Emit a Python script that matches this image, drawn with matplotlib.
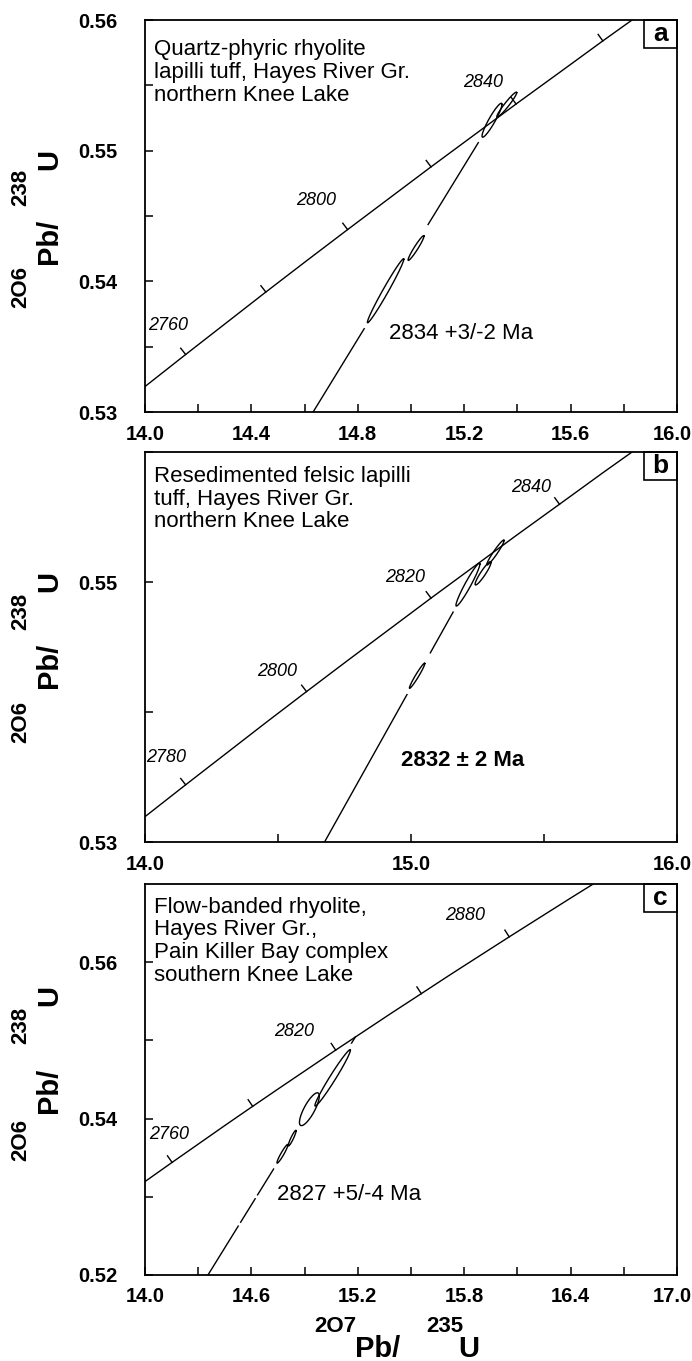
import matplotlib
matplotlib.use("Agg")
import matplotlib.pyplot as plt
from matplotlib.patches import Rectangle
from matplotlib.transforms import offset_copy
import numpy as np

plt.rcParams['font.family'] = ['Liberation Sans', 'DejaVu Sans']

# concordia: age (Ma), 207Pb/235U, 206Pb/238U
conc_age = [2700, 2720, 2740, 2760, 2780, 2790, 2800, 2820, 2840, 2850, 2860, 2880, 2900, 2910, 2920]
conc_x = [13.2833, 13.5675, 13.8573, 14.1528, 14.4542, 14.6072, 14.7617, 15.0752, 15.3950,
          15.5581, 15.7211, 16.0537, 16.3930, 16.5652, 16.7390]
conc_y = [0.52020, 0.52492, 0.52966, 0.53440, 0.53918, 0.54157, 0.54396, 0.54876, 0.55357,
          0.55598, 0.55840, 0.56324, 0.56810, 0.57053, 0.57297]

panel_letters = ['a', 'b', 'c']
descriptions = [
    "Quartz-phyric rhyolite\nlapilli tuff, Hayes River Gr.\nnorthern Knee Lake",
    "Resedimented felsic lapilli\ntuff, Hayes River Gr.\nnorthern Knee Lake",
    "Flow-banded rhyolite,\nHayes River Gr.,\nPain Killer Bay complex\nsouthern Knee Lake",
]
results = ["2834 +3/-2 Ma", "2832 \u00b1 2 Ma", "2827 +5/-4 Ma"]
result_bold = [False, True, False]

xlims = [(14.0, 16.0), (14.0, 16.0), (14.0, 17.0)]
ylims = [(0.53, 0.56), (0.53, 0.56), (0.52, 0.57)]
x_major = [[14.0, 14.4, 14.8, 15.2, 15.6, 16.0], [14.0, 15.0, 16.0],
           [14.0, 14.6, 15.2, 15.8, 16.4, 17.0]]
x_minor = [[14.2, 14.6, 15.0, 15.4, 15.8], [14.5, 15.5],
           [14.3, 14.9, 15.5, 16.1, 16.7]]
y_major = [[0.53, 0.54, 0.55, 0.56], [0.53, 0.55], [0.52, 0.54, 0.56]]
y_minor = [[0.535, 0.545, 0.555], [0.54, 0.56], [0.53, 0.55]]

# concordia age ticks and their labels
tick_ages = [[2760, 2780, 2800, 2820, 2840, 2860],
             [2760, 2790, 2820, 2850],
             [2760, 2790, 2820, 2850, 2880]]
label_ages = [[2760, 2800, 2840], [2760, 2790, 2820, 2850], [2760, 2820, 2880]]
label_text = [["2760", "2800", "2840"], ["2780", "2800", "2820", "2840"],
              ["2760", "2820", "2880"]]

# discordia: lower end (at bottom axis) and upper intercept
disc_lo = [(14.632, 0.530), (14.675, 0.530), (14.355, 0.520)]
disc_hi = [(15.2984, 0.55212), (15.2664, 0.55164), (15.1863, 0.55044)]
# short breaks in the discordia line (206Pb/238U where the line is broken)
disc_gaps = [[0.5441], [0.5443], [0.5265, 0.5300]]

# error ellipses: centre x, centre y, half-range x, half-range y, correlation
ell_cx = [[14.9045, 15.019, 15.3045, 15.360],
          [15.023, 15.214, 15.271, 15.3175],
          [14.775, 14.830, 14.927, 15.058]]
ell_cy = [[0.53928, 0.54255, 0.55233, 0.55352],
          [0.54279, 0.54980, 0.55067, 0.55227],
          [0.53550, 0.53750, 0.54120, 0.54520]]
ell_sx = [[0.0685, 0.030, 0.0375, 0.0375],
          [0.029, 0.045, 0.030, 0.0325],
          [0.031, 0.022, 0.056, 0.100]]
ell_sy = [[0.00245, 0.00095, 0.00130, 0.00096],
          [0.00097, 0.00165, 0.00090, 0.00096],
          [0.00120, 0.00100, 0.00210, 0.00360]]
ell_rho = [[0.985, 0.96, 0.93, 0.96],
           [0.97, 0.96, 0.93, 0.96],
           [0.95, 0.93, 0.80, 0.98]]

# pixel offsets of the age labels from their tick
lab_off = [[(-18, 29), (-32, 29), (-33, 22)],
           [(-20, 27), (-29, 20), (-26, 21), (-28, 17)],
           [(-3, 28), (-42, 19), (-44, 21)]]
# y positions (axes fraction) of U, 238, Pb/, 2O6 labels
ylab_pos = [[0.643, 0.574, 0.435, 0.318],
            [0.667, 0.592, 0.454, 0.308],
            [0.716, 0.637, 0.473, 0.345]]
text_top = [0.952, 0.965, 0.968]
res_pos = [(0.459, 0.20), (0.481, 0.21), (0.248, 0.205)]

fig = plt.figure(figsize=(6.92, 13.61), dpi=100)
axes_px = [(20, 412), (452, 842), (884, 1275)]
W, H = 692.0, 1361.0
left, right = 145, 677

for i, (top, bot) in enumerate(axes_px):
    ax = fig.add_axes([left / W, 1 - bot / H, (right - left) / W, (bot - top) / H])
    ax.set_xlim(*xlims[i])
    ax.set_ylim(*ylims[i])
    ax.set_xticks(x_major[i])
    ax.set_xticks(x_minor[i], minor=True)
    ax.set_yticks(y_major[i])
    ax.set_yticks(y_minor[i], minor=True)
    ax.set_xticklabels(['{:.1f}'.format(v) for v in x_major[i]])
    ax.set_yticklabels(['{:.2f}'.format(v) for v in y_major[i]])
    ax.tick_params(which='both', direction='in', length=6, width=1.1, top=False, right=False)
    ax.tick_params(axis='y', pad=20, labelsize=14.5)
    ax.tick_params(axis='x', pad=9, labelsize=14.5)
    for lab in ax.get_xticklabels() + ax.get_yticklabels():
        lab.set_fontweight('bold')
    last = ax.get_xticklabels()[-1]
    last.set_transform(offset_copy(last.get_transform(), fig=fig, x=-5, y=0, units='dots'))
    for s in ax.spines.values():
        s.set_linewidth(1.3)

    # concordia
    ax.plot(conc_x, conc_y, color='black', lw=1.0, zorder=6)

    # discordia, drawn in pieces around its breaks
    x0, y0 = disc_lo[i]
    x1, y1 = disc_hi[i]
    cuts = [y0]
    for g in disc_gaps[i]:
        cuts += [g - 0.00025, g + 0.00025]
    cuts.append(y1)
    for ya, yb in zip(cuts[::2], cuts[1::2]):
        xa = x0 + (ya - y0) / (y1 - y0) * (x1 - x0)
        xb = x0 + (yb - y0) / (y1 - y0) * (x1 - x0)
        ax.plot([xa, xb], [ya, yb], color='black', lw=1.0, zorder=2)

    # ellipses, with a white halo that breaks the discordia
    t = np.linspace(0, 2 * np.pi, 200)
    shapes = []
    for cx, cy, sx, sy, r in zip(ell_cx[i], ell_cy[i], ell_sx[i], ell_sy[i], ell_rho[i]):
        ex = cx + sx * np.cos(t)
        ey = cy + sy * (r * np.cos(t) + np.sqrt(1 - r ** 2) * np.sin(t))
        shapes.append((ex, ey))
        ax.fill(ex, ey, color='white', zorder=3)
        ax.plot(ex, ey, color='white', lw=9, zorder=3, solid_capstyle='round')
    for ex, ey in shapes:
        ax.plot(ex, ey, color='black', lw=1.0, zorder=5)

    # concordia ticks, perpendicular to the curve, pointing up-left
    inv = ax.transData.inverted()
    for age in tick_ages[i]:
        k = conc_age.index(age)
        p = ax.transData.transform((conc_x[k], conc_y[k]))
        p0 = ax.transData.transform((conc_x[k - 1], conc_y[k - 1]))
        p1 = ax.transData.transform((conc_x[k + 1], conc_y[k + 1]))
        d = (p1 - p0) / np.hypot(*(p1 - p0))
        n = np.array([-d[1], d[0]])
        q = inv.transform(p + 8 * n)
        ax.plot([conc_x[k], q[0]], [conc_y[k], q[1]], color='black', lw=1.0, zorder=6)
    for age, txt, off in zip(label_ages[i], label_text[i], lab_off[i]):
        k = conc_age.index(age)
        ax.annotate(txt, (conc_x[k], conc_y[k]), xytext=off, textcoords='offset pixels',
                    ha='center', va='center', fontsize=13, style='italic')

    # sample description
    ax.text(0.017, text_top[i], descriptions[i], transform=ax.transAxes,
            ha='left', va='top', fontsize=16, linespacing=1.12)

    # age result
    ax.text(res_pos[i][0], res_pos[i][1], results[i], transform=ax.transAxes,
            ha='left', va='center', fontsize=16,
            fontweight='bold' if result_bold[i] else 'normal')

    # panel letter box
    ax.add_patch(Rectangle((0.938, 0.928), 0.062, 0.072, transform=ax.transAxes,
                           fill=False, lw=1.2, zorder=7, clip_on=False))
    ax.text(0.969, 0.964, panel_letters[i], transform=ax.transAxes, ha='center',
            va='center', fontsize=19, fontweight='bold', zorder=8)

    # y axis label 206Pb/238U, rotated
    yu, y238, ypb, y206 = ylab_pos[i]
    xs_big = (49 - left) / (right - left)
    xs_small = (21 - left) / (right - left)
    ax.text(xs_big, yu, 'U', transform=ax.transAxes, rotation=90, ha='center',
            va='center', fontsize=21, fontweight='bold')
    ax.text(xs_big, ypb, 'Pb/', transform=ax.transAxes, rotation=90, ha='center',
            va='center', fontsize=21, fontweight='bold')
    ax.text(xs_small, y238, '238', transform=ax.transAxes, rotation=90, ha='center',
            va='center', fontsize=16, fontweight='bold')
    ax.text(xs_small, y206, '2O6', transform=ax.transAxes, rotation=90, ha='center',
            va='center', fontsize=16, fontweight='bold')

# x axis label 207Pb/235U
fig.text(335 / W, 1 - 1326 / H, '2O7', ha='center', va='center', fontsize=16, fontweight='bold')
fig.text(445 / W, 1 - 1326 / H, '235', ha='center', va='center', fontsize=16, fontweight='bold')
fig.text(378 / W, 1 - 1349 / H, 'Pb/', ha='center', va='center', fontsize=21, fontweight='bold')
fig.text(469 / W, 1 - 1349 / H, 'U', ha='center', va='center', fontsize=21, fontweight='bold')

fig.savefig('out.png', dpi=100)
